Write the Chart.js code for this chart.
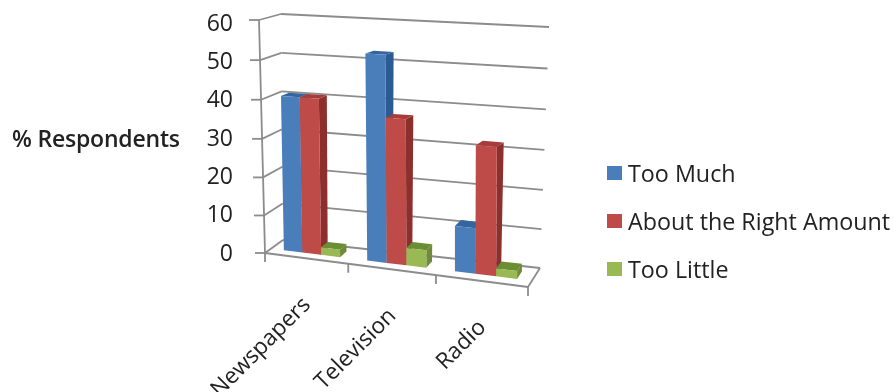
<!DOCTYPE html>
<html>
<head>
<meta charset="utf-8">
<title>% Respondents</title>
<script src="https://cdn.jsdelivr.net/npm/chart.js@4/dist/chart.umd.min.js"></script>
<style>
  html, body { margin: 0; padding: 0; background: #fff; overflow: hidden; }
  #wrap { position: relative; width: 894px; height: 392px; font-family: "Open Sans", sans-serif; color: #222; }
  #chart { position: absolute; left: 0; top: 0; }
  #ytitle { position: absolute; left: 12px; top: 122px; font-size: 23px; font-weight: 600; white-space: nowrap; letter-spacing: -0.2px; }
  .legend-item { position: absolute; left: 607px; white-space: nowrap; font-size: 23.3px; line-height: 30px; }
  .legend-item i { position: absolute; left: 0; top: 8px; width: 15px; height: 14px; }
  .legend-item span { position: absolute; left: 21px; top: 0; }
</style>
</head>
<body>
<div id="wrap">
  <canvas id="chart" width="894" height="392"></canvas>
  <div id="ytitle">% Respondents</div>
  <div id="legend"></div>
</div>
<script>
var categories = ['Newspapers', 'Television', 'Radio'];
var tooMuch = [40.5, 52.5, 11.5];
var aboutRight = [40.5, 37, 32];
var tooLittle = [2, 4.5, 2];
var yMax = 60;
var yStep = 10;

var seriesNames = ['Too Much', 'About the Right Amount', 'Too Little'];
var faceColors = ['#4a7ebb', '#be4b48', '#98b954'];
var sideColors = ['#2c5a94', '#8c2f2d', '#6f8b3a'];
var topColors = ['#34659f', '#a63d3a', '#6b8e33'];
var legendTops = [158, 206, 254];

var gridColor = '#8c8c8c';

// Corners of the 3D box the plot sits in.
var box = {
  floorFrontLeft: [265, 253],
  topFrontLeft: [259, 20],
  floorBackLeft: [283, 240],
  topBackLeft: [281, 14],
  floorFrontRight: [528, 287],
  topFrontRight: [527, 33],
  floorBackRight: [540, 268],
  topBackRight: [549, 27],
};

// Front and back depth of the bars inside the box.
var barDepthFront = 0.33;
var barDepthBack = 0.72;

function mix(a, b, t) {
  return [a[0] + (b[0] - a[0]) * t, a[1] + (b[1] - a[1]) * t];
}

// u = across categories, v = up the value axis, d = into the back wall, all 0..1.
function project(u, v, d) {
  // Small bend so the spacing tightens like a perspective view.
  var pu = u - 0.075 * u * (1 - u);
  var pv = v - 0.04 * v * (1 - v);
  var frontLeft = mix(box.floorFrontLeft, box.topFrontLeft, pv);
  var backLeft = mix(box.floorBackLeft, box.topBackLeft, pv);
  var frontRight = mix(box.floorFrontRight, box.topFrontRight, pv);
  var backRight = mix(box.floorBackRight, box.topBackRight, pv);
  return mix(mix(frontLeft, frontRight, pu), mix(backLeft, backRight, pu), d);
}

function polygon(ctx, points, color) {
  ctx.fillStyle = color;
  ctx.beginPath();
  points.forEach(function (p, i) {
    if (i === 0) {
      ctx.moveTo(p[0], p[1]);
    } else {
      ctx.lineTo(p[0], p[1]);
    }
  });
  ctx.closePath();
  ctx.fill();
}

function line(ctx, a, b) {
  ctx.beginPath();
  ctx.moveTo(a[0], a[1]);
  ctx.lineTo(b[0], b[1]);
  ctx.stroke();
}

// Draws the walls, the bars and the category labels in the projected box.
var box3d = {
  id: 'box3d',
  beforeDatasetsDraw: function (chart) {
    var ctx = chart.ctx;
    var area = chart.chartArea;
    var yScale = chart.scales.y;
    var xScale = chart.scales.x;

    function toU(px) {
      return (px - area.left) / (area.right - area.left);
    }
    function toV(py) {
      return (area.bottom - py) / (area.bottom - area.top);
    }

    ctx.save();
    ctx.strokeStyle = gridColor;
    ctx.lineWidth = 1.8;

    // Value grid lines on the left and back walls, with the axis ticks.
    yScale.ticks.forEach(function (tick) {
      var v = toV(yScale.getPixelForValue(tick.value));
      var front = project(0, v, 0);
      line(ctx, [front[0] - 10, front[1]], front);
      line(ctx, front, project(0, v, 1));
      line(ctx, project(0, v, 1), project(1, v, 1));
    });

    // Axis and floor edges.
    line(ctx, project(0, 0, 0), project(0, 1, 0));
    line(ctx, project(0, 0, 0), project(1, 0, 0));
    line(ctx, project(1, 0, 0), project(1, 0, 1));

    // Category ticks along the front edge of the floor.
    for (var t = 0; t <= categories.length; t++) {
      var p = project(t / categories.length, 0, 0);
      line(ctx, p, [p[0], p[1] + 9]);
    }

    // Bars, left to right so each one covers the side of the previous one.
    categories.forEach(function (name, c) {
      chart.data.datasets.forEach(function (ds, s) {
        var bar = chart.getDatasetMeta(s).data[c];
        var u0 = toU(bar.x - bar.width / 2);
        var u1 = toU(bar.x + bar.width / 2);
        var v0 = toV(bar.base);
        var v1 = toV(bar.y);
        var d0 = barDepthFront;
        var d1 = barDepthBack;
        polygon(ctx, [project(u1, v0, d0), project(u1, v1, d0), project(u1, v1, d1), project(u1, v0, d1)], sideColors[s]);
        polygon(ctx, [project(u0, v1, d0), project(u1, v1, d0), project(u1, v1, d1), project(u0, v1, d1)], topColors[s]);
        polygon(ctx, [project(u0, v0, d0), project(u1, v0, d0), project(u1, v1, d0), project(u0, v1, d0)], faceColors[s]);
      });
    });

    // Category labels, slanted and hanging off the floor edge.
    ctx.fillStyle = '#222';
    ctx.font = '22.5px "Open Sans", sans-serif';
    ctx.textAlign = 'right';
    ctx.textBaseline = 'middle';
    categories.forEach(function (name, c) {
      var at = project(toU(xScale.getPixelForTick(c)), 0, 0);
      ctx.save();
      ctx.translate(at[0] + 1, at[1] + 43);
      ctx.rotate(-Math.PI / 4);
      ctx.fillText(name, 0, 0);
      ctx.restore();
    });
    ctx.restore();

    // The bars above replace the flat ones.
    return false;
  },
};

new Chart(document.getElementById('chart'), {
  type: 'bar',
  data: {
    labels: categories,
    datasets: [
      { label: seriesNames[0], data: tooMuch, backgroundColor: faceColors[0] },
      { label: seriesNames[1], data: aboutRight, backgroundColor: faceColors[1] },
      { label: seriesNames[2], data: tooLittle, backgroundColor: faceColors[2] },
    ],
  },
  options: {
    responsive: false,
    animation: false,
    layout: { padding: { left: 0, right: 366, top: 24, bottom: 130 } },
    datasets: { bar: { categoryPercentage: 0.68, barPercentage: 1 } },
    plugins: { legend: { display: false }, tooltip: { enabled: false }, title: { display: false } },
    scales: {
      x: {
        grid: { display: false },
        border: { display: false },
        ticks: { display: false },
      },
      y: {
        min: 0,
        max: yMax,
        grid: { display: false, drawTicks: false },
        border: { display: false },
        ticks: {
          stepSize: yStep,
          padding: 32,
          color: '#222',
          font: { family: '"Open Sans", sans-serif', size: 23 },
        },
        afterFit: function (scale) {
          scale.width = 265;
          // Let the end labels hang over the plot edges.
          scale.paddingTop = 0;
          scale.paddingBottom = 0;
        },
      },
    },
  },
  plugins: [box3d],
});

// Legend next to the plot.
var legendElement = document.getElementById('legend');
seriesNames.forEach(function (name, i) {
  var item = document.createElement('div');
  item.className = 'legend-item';
  item.style.top = legendTops[i] + 'px';
  var swatch = document.createElement('i');
  swatch.style.background = faceColors[i];
  var text = document.createElement('span');
  text.textContent = name;
  item.append(swatch, text);
  legendElement.append(item);
});
</script>
</body>
</html>
